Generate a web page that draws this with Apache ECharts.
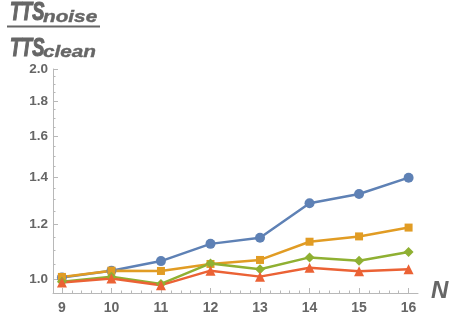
<!DOCTYPE html>
<html>
<head>
<meta charset="utf-8">
<script src="https://cdn.jsdelivr.net/npm/echarts@6/dist/echarts.min.js"></script>
<style>
  html, body { margin: 0; padding: 0; background: #fff; }
  #chart { width: 450px; height: 320px; }
</style>
</head>
<body>
<div id="chart"></div>
<script>
  // chart data (ratio TTS_noise / TTS_clean), log-scaled y axis
  var nValues = [9, 10, 11, 12, 13, 14, 15, 16];
  var blueRatio = [1.006, 1.029, 1.062, 1.124, 1.147, 1.285, 1.325, 1.398];
  var orangeRatio = [1.008, 1.029, 1.028, 1.052, 1.066, 1.132, 1.152, 1.186];
  var greenRatio = [0.992, 1.009, 0.985, 1.054, 1.034, 1.075, 1.063, 1.094];
  var redRatio = [0.990, 1.003, 0.981, 1.029, 1.009, 1.039, 1.027, 1.034];

  var yTicks = [1.0, 1.2, 1.4, 1.6, 1.8, 2.0];
  var yMinorTicks = [1.05, 1.1, 1.15, 1.25, 1.3, 1.35, 1.45, 1.5, 1.55, 1.65, 1.7, 1.75, 1.85, 1.9, 1.95];
  var xTicks = [9, 10, 11, 12, 13, 14, 15, 16];
  var xMinorTicks = [9.2, 9.4, 9.6, 9.8, 10.2, 10.4, 10.6, 10.8, 11.2, 11.4, 11.6, 11.8,
    12.2, 12.4, 12.6, 12.8, 13.2, 13.4, 13.6, 13.8, 14.2, 14.4, 14.6, 14.8, 15.2, 15.4, 15.6, 15.8];

  var grey = '#666666';
  var axisGrey = '#b8b8b8';
  var font = '"Liberation Sans", Arial, sans-serif';

  function toLog(list) {
    return list.map(function (v) { return Math.log(v); });
  }

  function makeSeries(name, ratios, color, symbol, size) {
    return {
      name: name,
      type: 'line',
      xAxisIndex: 0,
      yAxisIndex: 0,
      data: nValues.map(function (n, i) { return [n, Math.log(ratios[i])]; }),
      symbol: symbol,
      symbolSize: size,
      showSymbol: true,
      lineStyle: { color: color, width: 2.5 },
      itemStyle: { color: color },
      animation: false
    };
  }

  var yMin = Math.log(0.956);
  var yMax = Math.log(2.0);
  var xMin = 8.82;
  var xMax = 16.19;

  var chart = echarts.init(document.getElementById('chart'));
  chart.setOption({
    animation: false,
    grid: { left: 53, right: 32, top: 69, bottom: 27 },
    xAxis: [
      {
        type: 'value', position: 'bottom', min: xMin, max: xMax,
        axisLine: { onZero: false, lineStyle: { color: axisGrey, width: 1 } },
        axisTick: { inside: true, length: 5, customValues: xTicks, lineStyle: { color: axisGrey } },
        axisLabel: {
          customValues: xTicks, margin: 8, color: grey, fontWeight: 'bold',
          fontSize: 14, fontFamily: font
        },
        splitLine: { show: false }
      },
      {
        type: 'value', position: 'bottom', min: xMin, max: xMax,
        axisLine: { show: false, onZero: false },
        axisTick: { inside: true, length: 2.5, customValues: xMinorTicks, lineStyle: { color: axisGrey } },
        axisLabel: { show: false },
        splitLine: { show: false }
      }
    ],
    yAxis: [
      {
        type: 'value', position: 'left', min: yMin, max: yMax,
        axisLine: { show: true, onZero: false, lineStyle: { color: axisGrey, width: 1 } },
        axisTick: { show: true, inside: true, length: 5, customValues: toLog(yTicks), lineStyle: { color: axisGrey } },
        axisLabel: {
          customValues: toLog(yTicks), margin: 5, color: grey, fontWeight: 'bold',
          fontSize: 13.5, fontFamily: font,
          formatter: function (v) { return Math.exp(v).toFixed(1); }
        },
        splitLine: { show: false }
      },
      {
        type: 'value', position: 'left', min: yMin, max: yMax,
        axisLine: { show: false, onZero: false },
        axisTick: { show: true, inside: true, length: 2.5, customValues: toLog(yMinorTicks), lineStyle: { color: axisGrey } },
        axisLabel: { show: false },
        splitLine: { show: false }
      }
    ],
    graphic: [
      // fraction title
      { type: 'text', x: 10, y: 12.5, scaleX: 0.7,
        style: { text: 'TTS', font: 'italic bold 26px ' + font, fill: grey, stroke: grey, lineWidth: 1.2, verticalAlign: 'middle' } },
      { type: 'text', x: 43, y: 17, scaleX: 1.22,
        style: { text: 'noise', font: 'italic bold 17px ' + font, fill: grey, stroke: grey, lineWidth: 0.4, verticalAlign: 'middle' } },
      { type: 'line', shape: { x1: 7, y1: 26.5, x2: 100, y2: 26.5 },
        style: { stroke: grey, lineWidth: 2 } },
      { type: 'text', x: 10, y: 48.5, scaleX: 0.7,
        style: { text: 'TTS', font: 'italic bold 26px ' + font, fill: grey, stroke: grey, lineWidth: 1.2, verticalAlign: 'middle' } },
      { type: 'text', x: 43, y: 52, scaleX: 1.22,
        style: { text: 'clean', font: 'italic bold 17px ' + font, fill: grey, stroke: grey, lineWidth: 0.4, verticalAlign: 'middle' } },
      // x axis name
      { type: 'text', x: 431, y: 291.5,
        style: { text: 'N', font: 'italic bold 24px ' + font, fill: grey, verticalAlign: 'middle' } }
    ],
    series: [
      makeSeries('blue', blueRatio, '#5E81B5', 'circle', 10),
      makeSeries('orange', orangeRatio, '#E19C24', 'rect', 8),
      makeSeries('green', greenRatio, '#8FB032', 'diamond', 10),
      makeSeries('red', redRatio, '#EB6235', 'triangle', 10)
    ]
  });
</script>
</body>
</html>
